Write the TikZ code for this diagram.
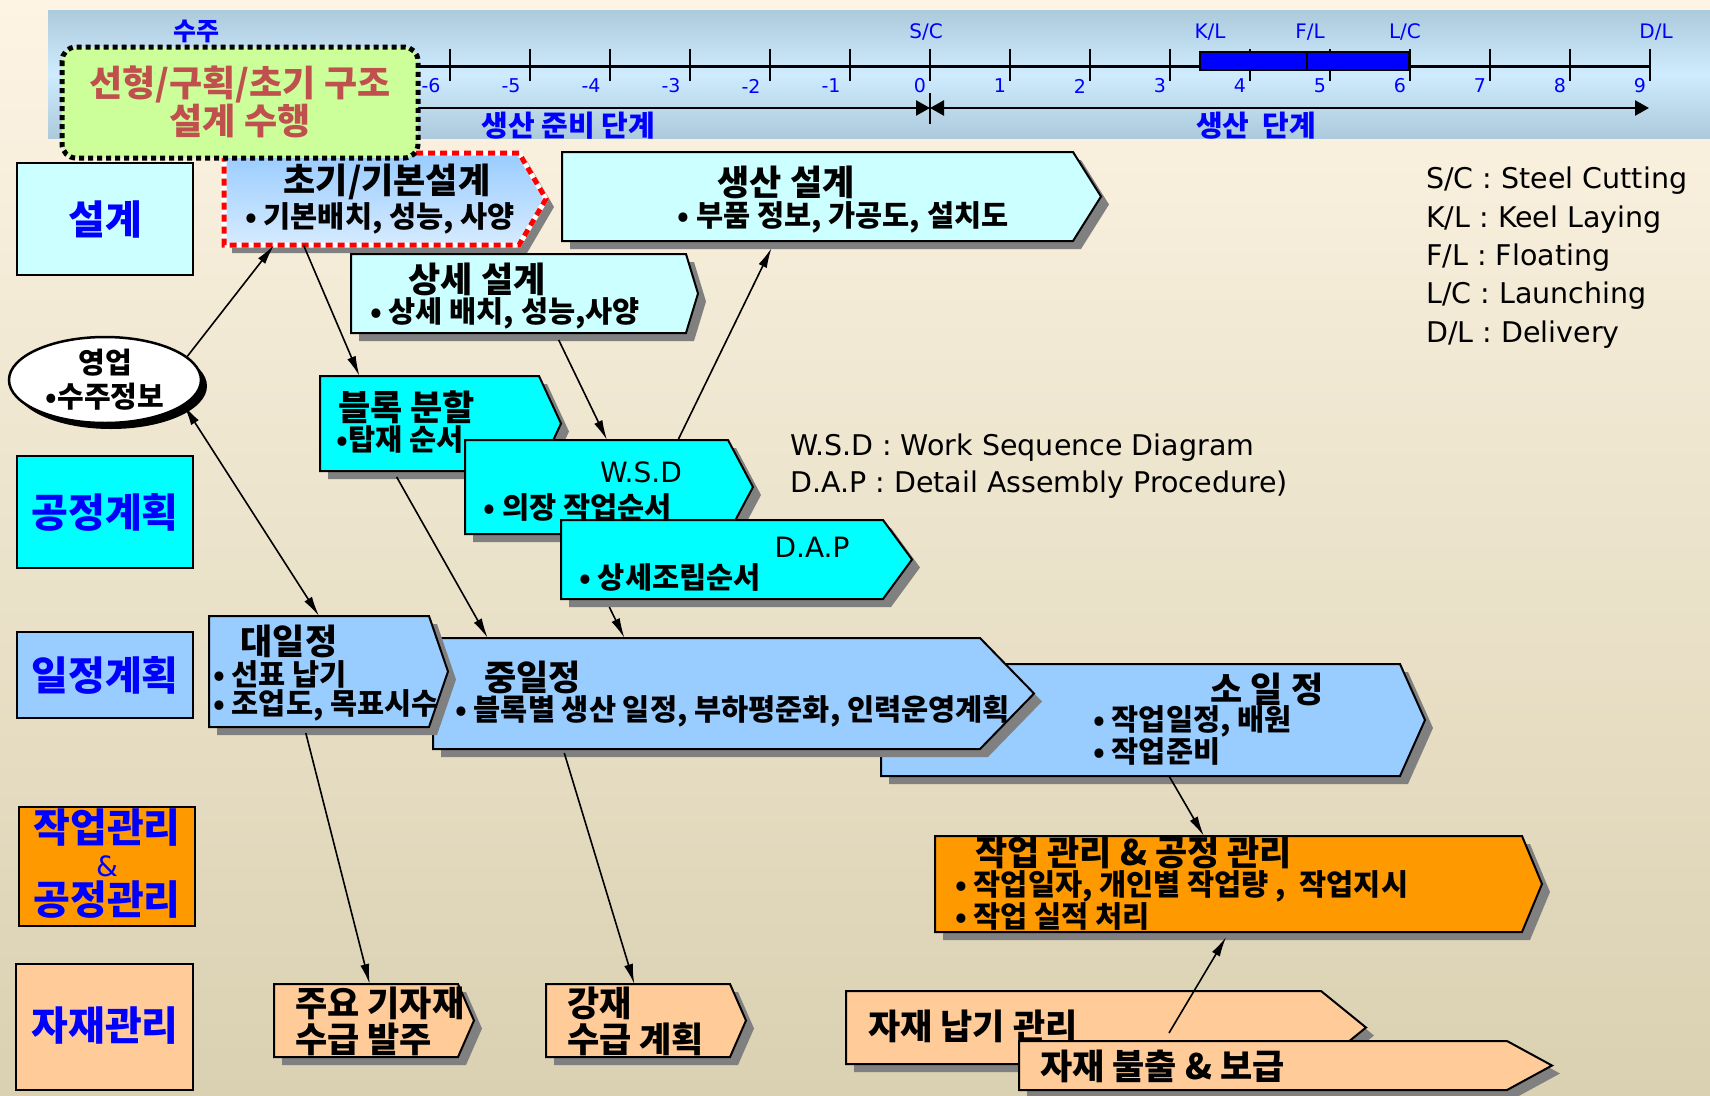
\documentclass[tikz,border=0pt]{standalone}
\usepackage{fontspec}
\setmainfont{Noto Sans CJK KR}
\newfontfamily\latf{DejaVu Sans}
\usetikzlibrary{arrows.meta,calc,shapes.geometric}
\definecolor{bgtop}{RGB}{253,244,228}
\definecolor{bgbot}{RGB}{218,209,178}
\definecolor{barA}{RGB}{172,202,220}
\definecolor{barB}{RGB}{206,236,254}
\definecolor{lcyan}{RGB}{204,255,255}
\definecolor{cyanf}{RGB}{0,255,255}
\definecolor{lblue}{RGB}{153,204,255}
\definecolor{paleblue}{RGB}{214,235,255}
\definecolor{orangef}{RGB}{255,153,0}
\definecolor{peach}{RGB}{255,204,153}
\definecolor{tblue}{RGB}{0,0,255}
\definecolor{redbrown}{RGB}{192,80,77}
\definecolor{lgreen}{RGB}{204,255,153}
\definecolor{shadowgray}{RGB}{128,128,128}
\newcommand\fsz[1]{\fontsize{#1}{#1}\selectfont}
% #1 name, #2 x1, #3 y1, #4 x2 (rect right), #5 point x, #6 y2, #7 fill
\newcommand\sigbox[7]{%
  \fill[shadowgray] (#2+8,#3+8) -- (#4+8,#3+8) -- (#5+8,{(#3+#6)/2+8}) -- (#4+8,#6+8) -- (#2+8,#6+8) -- cycle;
  \draw[line width=2pt, fill=#7, line join=miter] (#2,#3) -- (#4,#3) -- (#5,{(#3+#6)/2}) -- (#4,#6) -- (#2,#6) -- cycle;
  \node[inner sep=0pt, outer sep=0pt, minimum width={#4-#2}, minimum height={#6-#3}] (#1) at ({(#2+#4)/2},{(#3+#6)/2}) {};
}
\begin{document}
\begin{tikzpicture}[x=1pt,y=-1pt,
  conn/.style={line width=1.6pt,-{Latex[length=20pt,width=9pt]}},
  dconn/.style={line width=1.6pt,{Latex[length=20pt,width=9pt]}-{Latex[length=20pt,width=9pt]}},
  lanebox/.style={draw, line width=2.5pt},
  lanetxt/.style={text=tblue, font=\bfseries\fsz{40}, inner sep=0pt},
  ttl/.style={font=\bfseries\fsz{35}, inner sep=0pt},
  subt/.style={font=\bfseries\fsz{29.5}, inner sep=0pt},
  leg/.style={font=\latf\fsz{28.5}, anchor=base west, inner sep=0pt},
  ticklbl/.style={font=\latf\fsz{19}, text=tblue, inner sep=0pt},
  evlbl/.style={font=\latf\fsz{20}, text=tblue, inner sep=0pt},
  phase/.style={font=\bfseries\fsz{29}, text=tblue, inner sep=0pt},
  tri/.style={line width=2.5pt},
]
\useasboundingbox (0,0) rectangle (1710,1095);
\shade[top color=bgtop, bottom color=bgbot] (0,0) rectangle (1710,1095);

% ---------- timeline bar ----------
\shade[top color=barA, bottom color=barA, middle color=barB] (48,10) rectangle (1710,138);
\draw[line width=3.5pt] (418,66.5) -- (1649,66.5);
\foreach \k in {-6,...,9}{
  \draw[line width=2.5pt] ({930+80*\k},49) -- ({930+80*\k},81);
}
\foreach \k in {-6,...,-1}{
  \node[ticklbl] (tl\k) at ({911+80*\k},86) {\k};
}
\foreach \k in {0,...,9}{
  \node[ticklbl] (tl\k) at ({920+80*\k},86) {\k};
}
\draw[line width=2.5pt, fill=tblue] (1200,52) rectangle (1307,70);
\draw[line width=2.5pt, fill=tblue] (1307,52) rectangle (1409,70);
\node[font=\bfseries\fsz{25}, text=tblue, inner sep=0pt] (suju) at (196,31) {수주};
\node[evlbl] (evsc) at (926,32) {S/C};
\node[evlbl] (evkl) at (1210,32) {K/L};
\node[evlbl] (evfl) at (1310,32) {F/L};
\node[evlbl] (evlc) at (1405,32) {L/C};
\node[evlbl] (evdl) at (1656,32) {D/L};
\coordinate (pa) at (418,108);
\coordinate (pb) at (930,108);
\coordinate (pc) at (1649,108);
\draw[tri, -{Triangle[length=14pt,width=15pt]}] (pa) -- (pb);
\draw[tri, {Triangle[length=14pt,width=15pt]}-{Triangle[length=14pt,width=15pt]}] (pb) -- (pc);
\draw[line width=2.5pt] (930,93) -- (930,124);
\node[phase] (ph1) at (568,126) {생산 준비 단계};
\node[phase] (ph2) at (1256,126) {생산 \ 단계};

% ---------- lane headers ----------
\draw[lanebox, fill=lcyan] (17,163) rectangle (193,275);
\node[lanetxt] (l1) at (105,219) {설계};
\draw[lanebox, fill=cyanf] (17,456) rectangle (193,568);
\node[lanetxt] (l2) at (105,512) {공정계획};
\draw[lanebox, fill=lblue] (17,632) rectangle (193,718);
\node[lanetxt] (l3) at (105,675) {일정계획};
\draw[lanebox, fill=orangef] (19,807) rectangle (195,926);
\node[lanetxt] (l4a) at (107,828) {작업관리};
\node[text=tblue, font=\latf\fsz{28}, inner sep=0pt] (l4b) at (107,866) {\&};
\node[lanetxt] (l4c) at (107,900) {공정관리};
\draw[lanebox, fill=peach] (16,964) rectangle (193,1090);
\node[lanetxt] (l5) at (105,1026) {자재관리};

% ---------- design boxes ----------
% initial/basic design (red dotted border, gradient)
\fill[shadowgray] (232,161) -- (527,161) -- (554,207) -- (527,253) -- (232,253) -- cycle;
\shade[top color=lblue, bottom color=paleblue] (224,153) -- (519,153) -- (546,199) -- (519,245) -- (224,245) -- cycle;
\draw[line width=5pt, white] (224,153) -- (519,153) -- (546,199) -- (519,245) -- (224,245) -- cycle;
\draw[line width=5pt, red, dash pattern=on 7pt off 5pt] (224,153) -- (519,153) -- (546,199) -- (519,245) -- (224,245) -- cycle;
\node[inner sep=0pt, minimum width=295, minimum height=92] (cho) at (371.5,199) {};
\node[ttl] (choT) at (387,182) {초기/기본설계};
\node[subt] (choS) at (380,218) {• 기본배치, 성능, 사양};

\sigbox{saeng}{562}{152}{1073}{1101}{241}{lcyan}
\node[ttl] (saengT) at (786,182) {생산 설계};
\node[subt] (saengS) at (843,217) {• 부품 정보, 가공도, 설치도};

\sigbox{ssang}{351}{254}{686}{698}{333}{lcyan}
\node[ttl] (ssangT) at (477,279) {상세 설계};
\node[subt] (ssangS) at (505,313) {• 상세 배치, 성능,사양};

% ---------- process planning boxes ----------
\sigbox{blk}{320}{376}{539}{561}{471}{cyanf}
\node[ttl, anchor=west] (blkT) at (338,407) {블록 분할};
\node[subt, anchor=west] (blkS) at (336,439) {•탑재 순서};

\sigbox{wsd}{465}{440}{728}{753}{534}{cyanf}
\node[font=\latf\fsz{28}, inner sep=0pt] (wsdT) at (641,472) {W.S.D};
\node[subt] (wsdS) at (578,507) {• 의장 작업순서};

\sigbox{dap}{561}{520}{883}{912}{599}{cyanf}
\node[font=\latf\fsz{28}, inner sep=0pt] (dapT) at (812,547) {D.A.P};
\node[subt] (dapS) at (670,577) {• 상세조립순서};

% ---------- schedule boxes ----------
\sigbox{so}{881}{664}{1400}{1425}{776}{lblue}
\node[ttl] (soT) at (1267,689) {소 일 정};
\node[subt, anchor=west] (soS1) at (1093,721) {• 작업일정, 배원};
\node[subt, anchor=west] (soS2) at (1093,751) {• 작업준비};

\sigbox{jung}{433}{638}{980}{1034}{749}{lblue}
\node[ttl, anchor=west] (jungT) at (484,677) {중일정};
\node[subt, anchor=west] (jungS) at (455,711) {• 블록별 생산 일정, 부하평준화, 인력운영계획};

\sigbox{dae}{209}{616}{429}{448}{727}{lblue}
\node[ttl] (daeT) at (289,641) {대일정};
\node[subt, anchor=west] (daeS1) at (213,674) {• 선표 납기};
\node[subt, anchor=west] (daeS2) at (213,705) {• 조업도, 목표시수};

% ---------- work management ----------
\sigbox{jak}{935}{836}{1522}{1542}{932}{orangef}
\node[ttl, anchor=west] (jakT) at (975,852) {작업 관리 \& 공정 관리};
\node[subt, anchor=west] (jakS1) at (955,886) {• 작업일자, 개인별 작업량 , \ 작업지시};
\node[subt, anchor=west] (jakS2) at (955,916) {• 작업 실적 처리};

% ---------- material management ----------
\sigbox{juyo}{274}{984}{458}{474}{1057}{peach}
\node[ttl, anchor=west] (juyoT1) at (295,1003) {주요 기자재};
\node[ttl, anchor=west] (juyoT2) at (295,1039) {수급 발주};

\sigbox{gang}{546}{984}{730}{746}{1057}{peach}
\node[ttl, anchor=west] (gangT1) at (567,1003) {강재};
\node[ttl, anchor=west] (gangT2) at (567,1039) {수급 계획};

\sigbox{napgi}{846}{991}{1321}{1366}{1064}{peach}
\node[ttl, anchor=west] (napgiT) at (868,1026) {자재 납기 관리};

\sigbox{bul}{1019}{1041}{1507}{1552}{1090}{peach}
\node[ttl, anchor=west] (bulT) at (1040,1066) {자재 불출 \& 보급};

% ---------- sales ellipse ----------
\node[ellipse, fill=black, minimum width=192, minimum height=86, inner sep=0pt] (ellsh) at (111,386) {};
\node[ellipse, draw, line width=2.5pt, fill=white, minimum width=192, minimum height=86, inner sep=0pt] (ell) at (105,380) {};
\node[font=\bfseries\fsz{29}, inner sep=0pt] (ellT1) at (105,363) {영업};
\node[font=\bfseries\fsz{29}, inner sep=0pt] (ellT2) at (105,397) {•수주정보};

% ---------- green preliminary-design box ----------
\shade[top color=lgreen, middle color=white, bottom color=lgreen, rounded corners=14pt] (62,47) rectangle (418,158);
\draw[line width=5pt, dash pattern=on 5pt off 4pt, rounded corners=14pt] (62,47) rectangle (418,158);
\node[font=\bfseries\fsz{36}, text=redbrown, inner sep=0pt] (grT1) at (240,84) {선형/구획/초기 구조};
\node[font=\bfseries\fsz{36}, text=redbrown, inner sep=0pt] (grT2) at (240,121) {설계 수행};

% ---------- legends ----------
\node[leg] (lg1) at (1426,188) {S/C : Steel Cutting};
\node[leg] (lg2) at (1426,227) {K/L : Keel Laying};
\node[leg] (lg3) at (1426,265) {F/L : Floating};
\node[leg] (lg4) at (1426,303) {L/C : Launching};
\node[leg] (lg5) at (1426,342) {D/L : Delivery};
\node[leg] (lg6) at (790,455) {W.S.D : Work Sequence Diagram};
\node[leg] (lg7) at (790,492) {D.A.P : Detail Assembly Procedure)};

% ---------- connectors ----------
\draw[conn] (ell.16) -- ($(cho.south west)!0.17!(cho.south east)$);
\draw[conn] ($(cho.south west)!0.27!(cho.south east)$) -- ($(blk.north west)!0.18!(blk.north east)$);
\draw[conn] ($(ssang.south west)!0.62!(ssang.south east)+(0,7)$) -- ($(wsd.north west)!0.54!(wsd.north east)$);
\draw[conn] ($(wsd.north west)!0.81!(wsd.north east)$) -- ($(saeng.south west)!0.41!(saeng.south east)+(0,7)$);
\draw[dconn] (ell.-18) -- ($(dae.north west)!0.5!(dae.north east)$);
\draw[conn] ($(blk.south west)!0.35!(blk.south east)+(0,6)$) -- ($(jung.north west)!0.1!(jung.north east)$);
\draw[conn] ($(dap.south west)!0.15!(dap.south east)+(0,8)$) -- ($(jung.north west)!0.35!(jung.north east)$);
\draw[conn] ($(dae.south west)!0.44!(dae.south east)+(0,6)$) -- ($(juyo.north west)!0.52!(juyo.north east)$);
\draw[conn] ($(jung.south west)!0.24!(jung.south east)+(0,4)$) -- ($(gang.north west)!0.48!(gang.north east)$);
\draw[conn] ($(so.south west)!0.555!(so.south east)$) -- ($(jak.north west)!0.458!(jak.north east)$);
\coordinate (nstart) at (1169,1033);
\draw[conn] (nstart) -- ($(jak.south west)!0.496!(jak.south east)+(0,5)$);
\end{tikzpicture}
\end{document}
